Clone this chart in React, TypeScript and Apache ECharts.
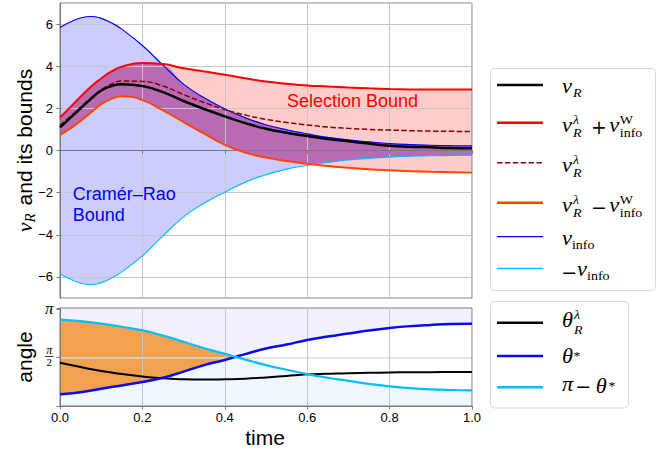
import React, { useEffect, useRef } from 'react';
import * as echarts from 'echarts';

// ---------------- data ----------------
// top panel (time samples are denser at the start where curves bend sharply)
const times = [0, 0.025, 0.05, 0.075, 0.1, 0.125, 0.15, 0.2, 0.25, 0.3, 0.35, 0.4, 0.45, 0.5, 0.55, 0.6, 0.65, 0.7, 0.75, 0.8, 0.85, 0.9, 0.95, 1.0];
const vR = [1.1, 1.55, 2.0, 2.45, 2.85, 3.06, 3.15, 3.06, 2.77, 2.35, 1.97, 1.62, 1.3, 1.03, 0.84, 0.69, 0.55, 0.44, 0.33, 0.23, 0.18, 0.15, 0.12, 0.11];
const vRLambda = [1.2, 1.62, 2.05, 2.5, 2.88, 3.15, 3.3, 3.28, 3.06, 2.65, 2.28, 1.94, 1.68, 1.48, 1.33, 1.21, 1.11, 1.05, 1.0, 0.97, 0.94, 0.92, 0.91, 0.9];
const vRLambdaPlusW = [1.57, 2.05, 2.55, 3.03, 3.42, 3.75, 3.98, 4.15, 4.1, 3.9, 3.75, 3.6, 3.43, 3.28, 3.17, 3.09, 3.04, 2.99, 2.95, 2.92, 2.9, 2.89, 2.89, 2.89];
const vRLambdaMinusW = [0.74, 1.05, 1.4, 1.8, 2.2, 2.45, 2.57, 2.39, 1.9, 1.35, 0.8, 0.27, -0.1, -0.33, -0.5, -0.63, -0.74, -0.82, -0.89, -0.94, -0.98, -1.01, -1.03, -1.05];
const vInfo = [5.84, 6.1, 6.29, 6.36, 6.27, 6.05, 5.76, 4.98, 4.05, 3.15, 2.5, 1.98, 1.55, 1.22, 0.98, 0.79, 0.62, 0.5, 0.41, 0.33, 0.28, 0.25, 0.23, 0.22];
const negVInfo = [-5.86, -6.1, -6.29, -6.36, -6.27, -6.05, -5.76, -5.0, -4.05, -3.15, -2.5, -1.98, -1.5, -1.15, -0.88, -0.7, -0.56, -0.45, -0.37, -0.31, -0.27, -0.25, -0.23, -0.22];

// bottom panel
const timesBottom = [0, 0.05, 0.1, 0.15, 0.2, 0.25, 0.3, 0.35, 0.4, 0.45, 0.5, 0.55, 0.6, 0.65, 0.7, 0.75, 0.8, 0.85, 0.9, 0.95, 1.0];
const thetaR = [1.41, 1.27, 1.14, 1.04, 0.96, 0.9, 0.87, 0.86, 0.87, 0.89, 0.93, 0.98, 1.03, 1.05, 1.07, 1.08, 1.09, 1.1, 1.1, 1.11, 1.11];
const thetaStar = [0.38, 0.45, 0.56, 0.67, 0.78, 0.92, 1.12, 1.33, 1.5, 1.69, 1.87, 2.0, 2.15, 2.26, 2.36, 2.46, 2.54, 2.6, 2.64, 2.67, 2.68];
const piMinusThetaStar = [2.81, 2.76, 2.68, 2.58, 2.46, 2.29, 2.09, 1.88, 1.7, 1.51, 1.33, 1.18, 1.04, 0.92, 0.82, 0.72, 0.64, 0.58, 0.54, 0.52, 0.51];
// crossing of θ* and π−θ*
const crossTime = 0.426;
const crossAngle = 1.6;

const xTickStep = 0.2;
const topYMin = -7;
const topYMax = 7;
const bottomYMin = 0;
const bottomYMax = 3.19;

const annotations = [
  { text: 'Selection Bound', x: 0.551, y: 2.35, color: '#ff0000' },
  { text: 'Cramér–Rao', x: 0.031, y: -2.06, color: '#0000ff' },
  { text: 'Bound', x: 0.031, y: -3.04, color: '#0000ff' },
];

// ---------------- styling ----------------
const SERIF = '"Liberation Serif", "DejaVu Serif", serif';
const SANS = '"Liberation Sans", Arial, Helvetica, sans-serif';
const OPFONT = '"DejaVu Sans", sans-serif';
const AXIS_COLOR = '#7a7a7a';
const GRID_COLOR = '#c6c6c6';
const SMOOTH = 0.5;
const WIDEN = 1.12; // math glyphs of the reference are wider than Times

let mctx: CanvasRenderingContext2D | null = null;
function textWidth(s: string, font: string): number {
  if (!mctx) mctx = document.createElement('canvas').getContext('2d');
  mctx!.font = font;
  return mctx!.measureText(s).width;
}

type Tok = { t: string; size: number; it?: boolean; fam?: string; dy: number; stack?: boolean; gap?: number; sx?: number };

function mathText(x0: number, y0: number, toks: Tok[], color = '#000', z = 30, widen = true) {
  const els: any[] = [];
  let x = x0;
  let held = 0;
  toks.forEach((k) => {
    const fam = k.fam || SERIF;
    const sx = k.sx != null ? k.sx : (widen && fam === SERIF ? WIDEN : 1);
    const font = `${k.it ? 'italic ' : ''}${k.size}px ${fam}`;
    const w = textWidth(k.t, font) * sx;
    els.push({
      type: 'text', x, y: y0 + k.dy, z, silent: true, scaleX: sx, scaleY: 1,
      style: { text: k.t, font, fill: color, textAlign: 'left', textVerticalAlign: 'middle' },
    });
    if (k.stack) held = Math.max(held, w);
    else { x += Math.max(w, held) + (k.gap || 0); held = 0; }
  });
  return { els, width: x - x0 };
}

const pairs = (xs: number[], ys: number[]) => xs.map((t, i) => [t, ys[i]]);
// value first, time second: the stack is then computed on the value (y) dimension
const swapped = (xs: number[], ys: number[]) => xs.map((t, i) => [ys[i], t]);
const insertAt = (arr: number[], idx: number, v: number) => [...arr.slice(0, idx), v, ...arr.slice(idx)];

function buildOption(): any {
  const idx = timesBottom.findIndex((t) => t > crossTime);
  const timesB = insertAt(timesBottom, idx, crossTime);
  const thetaStarB = insertAt(thetaStar, idx, crossAngle);
  const piMinusB = insertAt(piMinusThetaStar, idx, crossAngle);

  const hiddenLine = { symbol: 'none', showSymbol: false, silent: true, lineStyle: { width: 0, opacity: 0 } };
  const bandBase = (stack: string, xs: number[], ys: number[], xi: number, yi: number) => ({
    type: 'line', stack, stackStrategy: 'all', data: swapped(xs, ys), encode: { x: 1, y: 0 },
    xAxisIndex: xi, yAxisIndex: yi, smooth: SMOOTH, z: 1, ...hiddenLine,
  });
  const bandTop = (stack: string, xs: number[], lo: number[], hi: number[], color: string, xi: number, yi: number) => ({
    type: 'line', stack, stackStrategy: 'all', data: swapped(xs, hi.map((v, i) => v - lo[i])), encode: { x: 1, y: 0 },
    xAxisIndex: xi, yAxisIndex: yi, smooth: SMOOTH, z: 1, ...hiddenLine, areaStyle: { color, opacity: 1 },
  });
  const line = (xs: number[], ys: number[], xi: number, yi: number, color: string, width: number, type: any = 'solid') => ({
    type: 'line', data: pairs(xs, ys), xAxisIndex: xi, yAxisIndex: yi, smooth: SMOOTH, symbol: 'none', showSymbol: false,
    silent: true, z: 4, lineStyle: { color, width, type },
  });

  const ovLo = vRLambdaMinusW.map((v, i) => Math.max(v, negVInfo[i]));
  const ovHi = vRLambdaPlusW.map((v, i) => Math.min(v, vInfo[i]));
  const maxB = thetaStarB.map((v, i) => Math.max(v, piMinusB[i]));
  const minB = thetaStarB.map((v, i) => Math.min(v, piMinusB[i]));

  const series: any[] = [
    // top panel fills
    bandBase('cr', times, negVInfo, 0, 0),
    bandTop('cr', times, negVInfo, vInfo, 'rgba(0,0,255,0.2)', 0, 0),
    bandBase('sel', times, vRLambdaMinusW, 0, 0),
    bandTop('sel', times, vRLambdaMinusW, vRLambdaPlusW, 'rgba(255,0,0,0.2)', 0, 0),
    bandBase('ov', times, ovLo, 0, 0),
    bandTop('ov', times, ovLo, ovHi, 'rgba(128,0,128,0.35)', 0, 0),
    // top panel lines
    line(times, vInfo, 0, 0, '#0000ff', 1.2),
    line(times, negVInfo, 0, 0, '#00bfff', 1.2),
    line(times, vRLambdaMinusW, 0, 0, '#ff4500', 2),
    line(times, vRLambdaPlusW, 0, 0, '#ff0000', 2),
    line(times, vRLambda, 0, 0, '#8b0000', 1.5, [5.5, 2.4]),
    line(times, vR, 0, 0, '#000000', 2.5),
    // bottom panel fills
    {
      type: 'line', data: pairs(timesB, maxB), xAxisIndex: 1, yAxisIndex: 1, smooth: SMOOTH, z: 1, ...hiddenLine,
      areaStyle: { color: 'rgba(0,0,255,0.055)', opacity: 1, origin: 'end' },
    },
    {
      type: 'line', data: pairs(timesB, minB), xAxisIndex: 1, yAxisIndex: 1, smooth: SMOOTH, z: 1, ...hiddenLine,
      areaStyle: { color: 'rgba(0,128,255,0.06)', opacity: 1, origin: 'start' },
    },
    bandBase('or', timesB, thetaStarB, 1, 1),
    {
      ...bandTop('or', timesB, thetaStarB, maxB, 'rgba(238,140,40,0.82)', 1, 1),
      markLine: {
        silent: true, symbol: 'none', z: 2, animation: false,
        label: { show: false },
        lineStyle: { color: '#dcdcdc', width: 1.6, type: 'solid' },
        data: [{ yAxis: Math.PI / 2 }],
      },
    },
    // bottom panel lines
    line(timesBottom, thetaR, 1, 1, '#000000', 2),
    line(timesB, thetaStarB, 1, 1, '#0a0af0', 2.5),
    line(timesB, piMinusB, 1, 1, '#00bfff', 2.2),
  ];

  const axisLine = { show: true, lineStyle: { color: AXIS_COLOR, width: 1 } };
  const axisTick = { show: true, inside: false, length: 3.5, lineStyle: { color: AXIS_COLOR, width: 1 } };
  const split = { show: true, lineStyle: { color: GRID_COLOR, width: 1 } };

  return {
    animation: false,
    backgroundColor: '#ffffff',
    grid: [
      { left: 60, top: 3, width: 412, height: 295, show: true, borderColor: AXIS_COLOR, borderWidth: 1, backgroundColor: 'transparent', z: 3 },
      { left: 60, top: 308, width: 412, height: 98, show: true, borderColor: AXIS_COLOR, borderWidth: 1, backgroundColor: 'transparent', z: 3 },
    ],
    xAxis: [
      {
        gridIndex: 0, type: 'value', min: 0, max: 1, interval: xTickStep, z: 3,
        axisLine, axisTick, splitLine: split, axisLabel: { show: false },
      },
      {
        gridIndex: 1, type: 'value', min: 0, max: 1, interval: xTickStep, z: 3,
        axisLine, axisTick, splitLine: split,
        axisLabel: {
          show: true, color: '#000', fontSize: 13, fontFamily: SANS, margin: 5,
          formatter: (v: number) => v.toFixed(1),
        },
      },
    ],
    yAxis: [
      {
        gridIndex: 0, type: 'value', min: topYMin, max: topYMax, splitNumber: 7, z: 3,
        axisLine, axisTick, splitLine: split,
        axisLabel: {
          show: true, color: '#000', fontSize: 13, fontFamily: SANS, margin: 7,
          showMinLabel: false, showMaxLabel: false,
          formatter: (v: number) => {
            const r = Math.round(v);
            if (Math.abs(v - r) > 1e-6 || r % 2 !== 0) return '';
            return r < 0 ? '\u2212' + (-r) : String(r);
          },
        },
      },
      {
        gridIndex: 1, type: 'value', min: bottomYMin, max: bottomYMax, interval: Math.PI / 2, z: 3,
        axisLine, axisTick, splitLine: { show: false }, axisLabel: { show: false },
      },
    ],
    series,
  };
}

function buildGraphics(chart: any): any[] {
  const g: any[] = [];
  const Z = 30;
  // legend boxes
  g.push({ type: 'rect', z: Z - 1, silent: true, shape: { x: 490.5, y: 68.5, width: 165, height: 222, r: 4 }, style: { fill: 'rgba(255,255,255,0.85)', stroke: '#d9d9d9', lineWidth: 1 } });
  g.push({ type: 'rect', z: Z - 1, silent: true, shape: { x: 490.5, y: 301.5, width: 138, height: 106.5, r: 4 }, style: { fill: 'rgba(255,255,255,0.85)', stroke: '#d9d9d9', lineWidth: 1 } });

  const handle = (y: number, color: string, width: number, dash?: number[]) => ({
    type: 'line', z: Z, silent: true, shape: { x1: 497, y1: y, x2: 543, y2: y },
    style: { stroke: color, lineWidth: width, lineDash: dash || null },
  });
  const topRows = [85, 122.7, 162.7, 202.7, 236.7, 268.3];
  g.push(handle(topRows[0], '#000000', 2.5));
  g.push(handle(topRows[1], '#ff0000', 2.5));
  g.push(handle(topRows[2], '#8b0000', 1.5, [5.5, 2.4]));
  g.push(handle(topRows[3], '#ff4500', 2.5));
  g.push(handle(topRows[4], '#0000ff', 1.3));
  g.push(handle(topRows[5], '#00bfff', 1.3));
  const botRows = [322.7, 356, 387.3];
  g.push(handle(botRows[0], '#000000', 2.5));
  g.push(handle(botRows[1], '#0a0af0', 2.5));
  g.push(handle(botRows[2], '#00bfff', 2.5));

  const M = 20, S = 12.5;
  const vTok = (gap = 0.5): Tok => ({ t: 'v', size: M, it: true, dy: -2.3, gap });
  const lamSup = (): Tok => ({ t: 'λ', size: S, it: true, dy: -8.3, stack: true });
  const rSub = (dy = 5.5, gap = 0): Tok => ({ t: 'R', size: S, it: true, dy, gap });
  const wSup = (): Tok => ({ t: 'W', size: S, dy: -8.3, stack: true });
  const infoSub = (dy = 5.5): Tok => ({ t: 'info', size: S, dy });
  const op = (s: string, gap = 2.4): Tok => ({ t: s, size: 19, fam: OPFONT, dy: -0.5, gap });
  const LX = 562;
  const topCy = [89, 127.7, 167.7, 207.7, 240.5, 272];
  const topLabels: Tok[][] = [
    [vTok(1), rSub(3.7)],
    [vTok(1), lamSup(), rSub(5.5, 9.5), op('+'), vTok(0.5), wSup(), infoSub()],
    [vTok(1), lamSup(), rSub()],
    [vTok(1), lamSup(), rSub(5.5, 9.5), op('\u2212'), vTok(0.5), wSup(), infoSub()],
    [vTok(0), infoSub(4)],
    [op('\u2212', 0), vTok(0), infoSub(4)],
  ];
  topLabels.forEach((toks, i) => g.push(...mathText(i === 5 ? LX - 0.8 : LX, topCy[i], toks).els));

  const thTok = (gap = 1): Tok => ({ t: 'θ', size: M, it: true, dy: 0, gap });
  const botCy = [320, 356.3, 386.7];
  const botLabels: Tok[][] = [
    [thTok(1), { t: 'λ', size: S, it: true, dy: -5.5, stack: true }, { t: 'R', size: S, it: true, dy: 10 }],
    [thTok(0.5), { t: '*', size: S, dy: -0.9 }],
    [{ t: 'π', size: M, it: true, dy: -1.8, gap: 2 }, { t: '\u2212', size: 19, fam: OPFONT, dy: -0.5, gap: 4.5 }, thTok(1.8), { t: '*', size: S, dy: -1.3 }],
  ];
  botLabels.forEach((toks, i) => g.push(...mathText(LX, botCy[i], toks).els));

  // y-axis title of the top panel (rotated)
  const yl = mathText(0, 0, [
    { t: 'v', size: 22, it: true, dy: 0, sx: 1 },
    { t: 'R', size: 15, it: true, dy: 5, gap: 2, sx: 1 },
    { t: ' and its bounds', size: 21, fam: SANS, dy: 0 },
  ], '#000', 30, false);
  g.push({ type: 'group', x: 24.7, y: 150.5 + yl.width / 2, rotation: Math.PI / 2, children: yl.els });

  // y-axis title of the bottom panel
  g.push({
    type: 'text', x: 24.5, y: 357, rotation: Math.PI / 2, z: Z, silent: true,
    style: { text: 'angle', font: `21px ${SANS}`, fill: '#000', textAlign: 'center', textVerticalAlign: 'middle' },
  });
  // x-axis title
  g.push({
    type: 'text', x: 265, y: 437.5, z: Z, silent: true,
    style: { text: 'time', font: `21px ${SANS}`, fill: '#000', textAlign: 'center', textVerticalAlign: 'middle' },
  });

  // π and π/2 tick labels of the bottom panel
  const [pxL, pyPi] = chart.convertToPixel({ gridIndex: 1 }, [0, Math.PI]);
  const [, pyHalf] = chart.convertToPixel({ gridIndex: 1 }, [0, Math.PI / 2]);
  g.push({
    type: 'text', x: pxL - 6.5, y: pyPi - 0.5, z: Z, silent: true,
    style: { text: 'π', font: `italic 17px ${SERIF}`, fill: '#000', textAlign: 'right', textVerticalAlign: 'middle' },
  });
  const fx = pxL - 10.7;
  g.push({
    type: 'text', x: fx, y: pyHalf - 7.6, z: Z, silent: true,
    style: { text: 'π', font: `italic 12px ${SERIF}`, fill: '#000', textAlign: 'center', textVerticalAlign: 'middle' },
  });
  g.push({ type: 'line', z: Z, silent: true, shape: { x1: fx - 4.2, y1: pyHalf - 1.2, x2: fx + 4.2, y2: pyHalf - 1.2 }, style: { stroke: '#000', lineWidth: 0.8 } });
  g.push({
    type: 'text', x: fx, y: pyHalf + 4.2, z: Z, silent: true,
    style: { text: '2', font: `11px ${SERIF}`, fill: '#000', textAlign: 'center', textVerticalAlign: 'middle' },
  });

  // annotations placed in data coordinates
  annotations.forEach((a) => {
    const [px, py] = chart.convertToPixel({ gridIndex: 0 }, [a.x, a.y]);
    g.push({
      type: 'text', x: px, y: py, z: Z, silent: true,
      style: { text: a.text, font: `18px ${SANS}`, fill: a.color, textAlign: 'left', textVerticalAlign: 'middle' },
    });
  });
  return g;
}

export default function App() {
  const ref = useRef<HTMLDivElement>(null);
  useEffect(() => {
    if (!ref.current) return;
    const chart = echarts.init(ref.current, undefined, { renderer: 'svg' });
    chart.setOption(buildOption());
    chart.setOption({ graphic: buildGraphics(chart) });
    return () => chart.dispose();
  }, []);
  return (
    <div
      ref={ref}
      style={{ position: 'fixed', left: 0, top: 0, width: 667, height: 454, background: '#ffffff' }}
    />
  );
}
